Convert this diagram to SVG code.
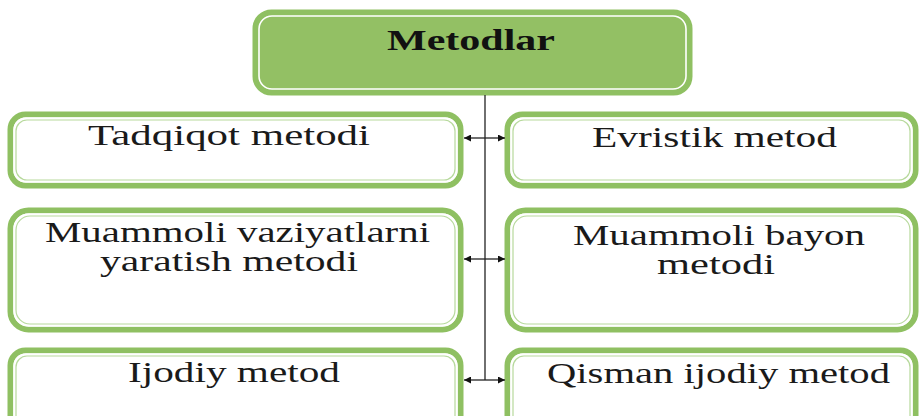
<svg xmlns="http://www.w3.org/2000/svg" width="920" height="416" viewBox="0 0 920 416">
<defs>
<style>
.outer{fill:#ffffff;stroke:#8fc062;stroke-width:6}
.inW{fill:none;stroke:#ffffff;stroke-width:1.6}
.inG{fill:none;stroke:#b7d99c;stroke-width:1.2}
.top{fill:#93c064}
.t{font-family:"Liberation Serif","Times New Roman",serif;font-size:29px;fill:#1a1a1a;text-anchor:start}
.tb{font-weight:bold;font-size:30px;fill:#111}
.ln{stroke:#222;stroke-width:1.3;fill:none}
</style>
<marker id="ah" viewBox="0 0 10 10" refX="10" refY="5" markerWidth="9" markerHeight="7" markerUnits="userSpaceOnUse" orient="auto">
<path d="M0,0 L10,5 L0,10 z" fill="#111"/>
</marker>
</defs>

<g id="node-metodlar">
<rect class="outer top" x="255.5" y="12.5" width="434" height="80" rx="16"/>
<rect class="inW" x="259" y="16" width="427" height="73" rx="13"/>
<text class="t tb" x="387" y="50" textLength="168" lengthAdjust="spacingAndGlyphs">Metodlar</text>
</g>

<g id="node-tadqiqot">
<rect class="outer" x="10.5" y="114.5" width="450" height="71" rx="15"/>
<rect class="inW" x="14" y="118" width="443" height="64" rx="12"/>
<rect class="inG" x="16" y="120" width="439" height="60" rx="11"/>
<text class="t" x="88" y="145" textLength="282" lengthAdjust="spacingAndGlyphs">Tadqiqot metodi</text>
</g>

<g id="node-evristik">
<rect class="outer" x="507.5" y="114.5" width="408" height="71" rx="15"/>
<rect class="inW" x="511" y="118" width="401" height="64" rx="12"/>
<rect class="inG" x="513" y="120" width="397" height="60" rx="11"/>
<text class="t" x="592" y="147" textLength="245" lengthAdjust="spacingAndGlyphs">Evristik metod</text>
</g>

<g id="node-muammoli-vaziyat">
<rect class="outer" x="10.5" y="210.5" width="450" height="119" rx="18"/>
<rect class="inW" x="14" y="214" width="443" height="112" rx="15"/>
<rect class="inG" x="16" y="216" width="439" height="108" rx="14"/>
<text class="t" x="45" y="242" textLength="385" lengthAdjust="spacingAndGlyphs">Muammoli vaziyatlarni</text>
<text class="t" x="100" y="271" textLength="258" lengthAdjust="spacingAndGlyphs">yaratish metodi</text>
</g>

<g id="node-muammoli-bayon">
<rect class="outer" x="507.5" y="210.5" width="408" height="119" rx="18"/>
<rect class="inW" x="511" y="214" width="401" height="112" rx="15"/>
<rect class="inG" x="513" y="216" width="397" height="108" rx="14"/>
<text class="t" x="573" y="245" textLength="292" lengthAdjust="spacingAndGlyphs">Muammoli bayon</text>
<text class="t" x="657" y="274" textLength="118" lengthAdjust="spacingAndGlyphs">metodi</text>
</g>

<g id="node-ijodiy">
<rect class="outer" x="10.5" y="350.5" width="450" height="90" rx="15"/>
<rect class="inW" x="14" y="354" width="443" height="83" rx="12"/>
<rect class="inG" x="16" y="356" width="439" height="79" rx="11"/>
<text class="t" x="128" y="382" textLength="212" lengthAdjust="spacingAndGlyphs">Ijodiy metod</text>
</g>

<g id="node-qisman">
<rect class="outer" x="507.5" y="350.5" width="408" height="90" rx="15"/>
<rect class="inW" x="511" y="354" width="401" height="83" rx="12"/>
<rect class="inG" x="513" y="356" width="397" height="79" rx="11"/>
<text class="t" x="547" y="383" textLength="343" lengthAdjust="spacingAndGlyphs">Qisman ijodiy metod</text>
</g>

<g id="connectors">
<path class="ln" d="M485,95 L485,380"/>
<path class="ln" d="M485,138 L464,138" marker-end="url(#ah)"/>
<path class="ln" d="M485,138 L505,138" marker-end="url(#ah)"/>
<path class="ln" d="M485,259 L464,259" marker-end="url(#ah)"/>
<path class="ln" d="M485,259 L505,259" marker-end="url(#ah)"/>
<path class="ln" d="M485,380 L464,380" marker-end="url(#ah)"/>
<path class="ln" d="M485,380 L505,380" marker-end="url(#ah)"/>
</g>
</svg>
